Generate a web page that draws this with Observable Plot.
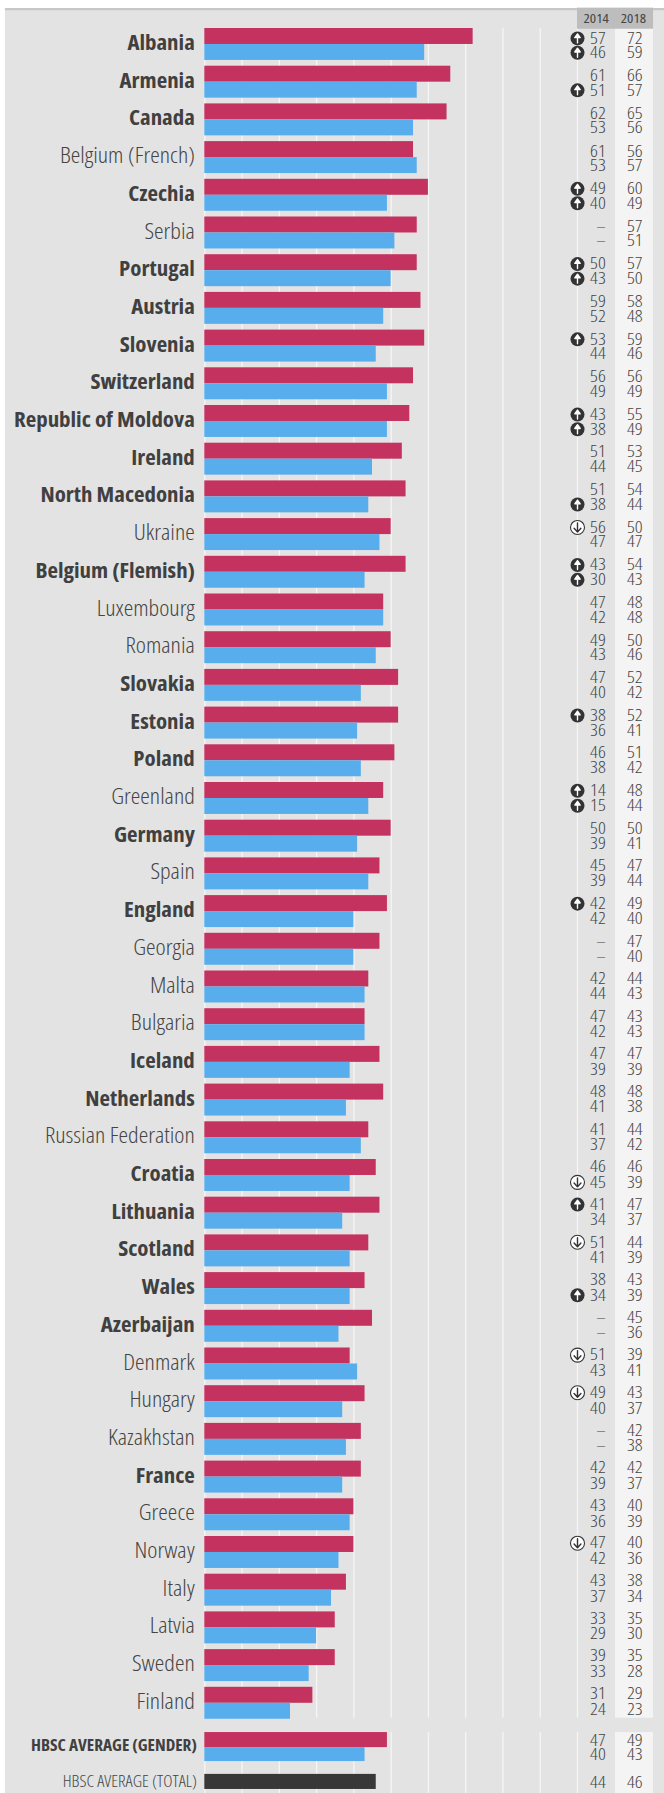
<!DOCTYPE html>
<html>
<head>
<meta charset="utf-8">
<style>html,body{margin:0;padding:0;background:#fff}svg{display:block}</style>
<script src="https://cdn.jsdelivr.net/npm/d3@7"></script>
<script src="https://cdn.jsdelivr.net/npm/@observablehq/plot@0.6"></script>
</head>
<body>
<div id="chart"></div>
<script>
const countries = ["Albania","Armenia","Canada","Belgium (French)","Czechia","Serbia","Portugal","Austria","Slovenia","Switzerland","Republic of Moldova","Ireland","North Macedonia","Ukraine","Belgium (Flemish)","Luxembourg","Romania","Slovakia","Estonia","Poland","Greenland","Germany","Spain","England","Georgia","Malta","Bulgaria","Iceland","Netherlands","Russian Federation","Croatia","Lithuania","Scotland","Wales","Azerbaijan","Denmark","Hungary","Kazakhstan","France","Greece","Norway","Italy","Latvia","Sweden","Finland"];
const boldCountries = ["Albania","Armenia","Canada","Czechia","Portugal","Austria","Slovenia","Switzerland","Republic of Moldova","Ireland","North Macedonia","Belgium (Flemish)","Slovakia","Estonia","Poland","Germany","England","Iceland","Netherlands","Croatia","Lithuania","Scotland","Wales","Azerbaijan","France"];
const girls2018 = [72,66,65,56,60,57,57,58,59,56,55,53,54,50,54,48,50,52,52,51,48,50,47,49,47,44,43,47,48,44,46,47,44,43,45,39,43,42,42,40,40,38,35,35,29];
const boys2018  = [59,57,56,57,49,51,50,48,46,49,49,45,44,47,43,48,46,42,41,42,44,41,44,40,40,43,43,39,38,42,39,37,39,39,36,41,37,38,37,39,36,34,30,28,23];
const girls2014 = [57,61,62,61,49,null,50,59,53,56,43,51,51,56,43,47,49,47,38,46,14,50,45,42,null,42,47,47,48,41,46,41,51,38,null,51,49,null,42,43,47,43,33,39,31];
const boys2014  = [46,51,53,53,40,null,43,52,44,49,38,44,38,47,30,42,43,40,36,38,15,39,39,42,null,44,42,39,41,37,45,34,41,34,null,43,40,null,39,36,42,37,29,33,24];
// change markers: [country, series, direction]
const changes = [["Albania","g",1],["Albania","b",1],["Armenia","b",1],["Czechia","g",1],["Czechia","b",1],["Portugal","g",1],["Portugal","b",1],["Slovenia","g",1],["Republic of Moldova","g",1],["Republic of Moldova","b",1],["North Macedonia","b",1],["Ukraine","g",-1],["Belgium (Flemish)","g",1],["Belgium (Flemish)","b",1],["Estonia","g",1],["Greenland","g",1],["Greenland","b",1],["England","g",1],["Croatia","b",-1],["Lithuania","g",1],["Scotland","g",-1],["Wales","b",1],["Denmark","g",-1],["Hungary","g",-1],["Norway","g",-1]];
const avgGender = {label:"HBSC AVERAGE (GENDER)", g2014:47, b2014:40, g2018:49, b2018:43};
const avgTotal = {label:"HBSC AVERAGE (TOTAL)", t2014:44, t2018:46};
const gridTicks = [0,10,20,30,40,50,60,70,80,90,100];

const pitch = 37.7, yTop = 28, x0 = 204.3, x100 = 577;
const colors = {girls:"#c43360", boys:"#58aeec", total:"#383838", panel:"#e3e3e3", head:"#bdbdbd", col:"#f4f4f4", ink:"#444", inkLight:"#444"};
// layout in axis units: x in percent, y in row units
const xPanel = -53.5, xColA = 100, xColSplit = 110.2, xColEnd = 120.4, xRight = 125;
const x2014 = 107.6, x2018 = 117.5;
const rowEnd = 46.82, gridBreak1 = 44.82, gridBreak2 = 45.2;
const rowG = 45.2, rowT = 46.31;
const barH = 0.424;

const rows = countries.map((c,i)=>({c,i,g:girls2018[i],b:boys2018[i],g14:girls2014[i],b14:boys2014[i]}));
// the number lines sit slightly differently from the top of the list to the bottom
const off = {g:i=>0.262-0.0021*i, b:i=>0.642-0.0012*i};
const marks = changes.map(([c,s,d])=>{const i=countries.indexOf(c);return {i,s,d,y:i+off[s](i)};});
const fmt = v => v==null ? "–" : String(v);
const numbers = [];
rows.forEach(r=>{
  const yg=r.i+off.g(r.i), yb=r.i+off.b(r.i);
  numbers.push({x:x2014,y:yg,t:fmt(r.g14)},{x:x2014,y:yb,t:fmt(r.b14)},{x:x2018,y:yg,t:fmt(r.g)},{x:x2018,y:yb,t:fmt(r.b)});
});
numbers.push({x:x2014,y:rowG+0.22,t:String(avgGender.g2014)},{x:x2014,y:rowG+0.60,t:String(avgGender.b2014)},{x:x2018,y:rowG+0.22,t:String(avgGender.g2018)},{x:x2018,y:rowG+0.60,t:String(avgGender.b2018)});
numbers.push({x:x2014,y:rowT+0.22,t:String(avgTotal.t2014)},{x:x2018,y:rowT+0.22,t:String(avgTotal.t2018)});

const arrowFilled = {
  draw(ctx, l) {
    const w = l * 0.3, h = l * 0.42;
    ctx.moveTo(0, 0);
    ctx.lineTo(0, -l + h);
    ctx.moveTo(-w, -l + h);
    ctx.lineTo(0, -l);
    ctx.lineTo(w, -l + h);
    ctx.closePath();
  }
};
const arrowOpen = {
  draw(ctx, l) {
    const w = l * 0.38, h = l * 0.42;
    ctx.moveTo(0, 0);
    ctx.lineTo(0, -l);
    ctx.moveTo(-w, -l + h);
    ctx.lineTo(0, -l);
    ctx.lineTo(w, -l + h);
  }
};

const plot = Plot.plot({
  width:664, height:1793, margin:0,
  style:{background:"transparent", fontFamily:"'Open Sans'", fontStretch:"75%"},
  x:{axis:null, domain:[0,100], range:[x0,x100]},
  y:{axis:null, domain:[0,rowEnd], range:[yTop,yTop+pitch*rowEnd]},
  marks:[
    Plot.rect([{}],{x1:xPanel,x2:xRight,y1:-0.5,y2:rowEnd,fill:colors.panel}),
    Plot.rect([{}],{x1:xPanel,x2:xRight,y1:-0.53,y2:-0.47,fill:"#c8c8c8"}),
    Plot.ruleX(gridTicks,{y1:0,y2:gridBreak1,stroke:"#f6f6f6",strokeWidth:1.3}),
    Plot.ruleX(gridTicks,{y1:gridBreak2,y2:rowEnd,stroke:"#f6f6f6",strokeWidth:1.3}),
    Plot.rect([{}],{x1:xColSplit,x2:xColEnd,y1:0,y2:gridBreak1,fill:colors.col}),
    Plot.rect([{}],{x1:xColSplit,x2:xColEnd,y1:gridBreak2,y2:rowEnd,fill:colors.col}),
    Plot.rect([{}],{x1:xColA,x2:xColEnd,y1:-0.54,y2:0.02,fill:colors.head}),
    Plot.text(["2014"],{x:105,y:-0.25,text:d=>d,fontSize:13,fill:"#444"}),
    Plot.text(["2018"],{x:115,y:-0.25,text:d=>d,fontSize:13,fill:"#444"}),
    Plot.rectX(rows,{x1:0,x2:"g",y1:d=>d.i,y2:d=>d.i+barH,fill:colors.girls}),
    Plot.rectX(rows,{x1:0,x2:"b",y1:d=>d.i+barH,y2:d=>d.i+2*barH,fill:colors.boys}),
    Plot.rectX([avgGender],{x1:0,x2:"g2018",y1:rowG,y2:rowG+0.4,fill:colors.girls}),
    Plot.rectX([avgGender],{x1:0,x2:"b2018",y1:rowG+0.4,y2:rowG+0.77,fill:colors.boys}),
    Plot.rectX([avgTotal],{x1:0,x2:"t2018",y1:rowT,y2:rowT+0.4,fill:colors.total}),
    Plot.text(rows.filter(r=>boldCountries.includes(r.c)),{x:0,dx:-10,y:d=>d.i+0.39,text:"c",textAnchor:"end",fontSize:21.3,fontWeight:700,fill:"#404040"}),
    Plot.text(rows.filter(r=>!boldCountries.includes(r.c)),{x:0,dx:-10,y:d=>d.i+0.39,text:"c",textAnchor:"end",fontSize:21.5,fontWeight:300,fill:colors.ink}),
    Plot.text([avgGender],{x:0,dx:-8,y:rowG+0.36,text:"label",textAnchor:"end",fontSize:15.5,fontWeight:700,fill:"#404040"}),
    Plot.text([avgTotal],{x:0,dx:-8,y:rowT+0.2,text:"label",textAnchor:"end",fontSize:16,fontWeight:300,fill:colors.ink}),
    Plot.text(numbers,{x:"x",y:"y",text:"t",textAnchor:"end",fontSize:16.5,fontWeight:300,fill:colors.inkLight}),
    Plot.dot(marks.filter(m=>m.d>0),{x:xColA,y:"y",r:7,fill:"#333"}),
    Plot.dot(marks.filter(m=>m.d<0),{x:xColA,y:"y",r:7,fill:"#fff",stroke:"#333",strokeWidth:1.1}),
    Plot.vector(marks.filter(m=>m.d>0),{x:xColA,y:"y",length:9,anchor:"middle",rotate:0,shape:arrowFilled,stroke:"#fff",fill:"#fff",strokeWidth:1.4}),
    Plot.vector(marks.filter(m=>m.d<0),{x:xColA,y:"y",length:9,anchor:"middle",rotate:180,shape:arrowOpen,stroke:"#333",fill:"none",strokeWidth:1.4})
  ]
});
document.getElementById("chart").appendChild(plot);

// widen the condensed face a little: the reference's condensed type runs wider at the same height
const widen = {"21.3":1.075,"21.5":1.125,"15.5":1.11,"16":1.10,"16.5":1.17,"13":1.14};
d3.select(plot).selectAll("text").each(function(){
  const k = widen[String(parseFloat(getComputedStyle(this).fontSize))] || 1;
  this.setAttribute("lengthAdjust","spacingAndGlyphs");
  this.setAttribute("textLength", this.getComputedTextLength()*k);
});
</script>
</body>
</html>
